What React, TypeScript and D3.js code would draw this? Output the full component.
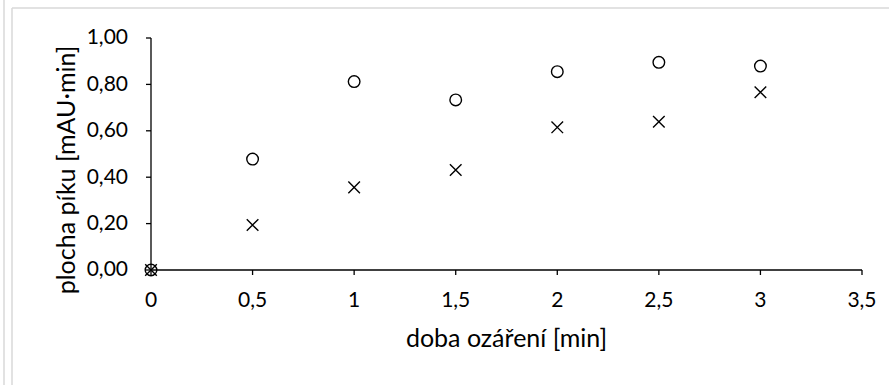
import React from "react";
import * as d3 from "d3";

const times = [0, 0.5, 1, 1.5, 2, 2.5, 3];
const circleValues = [0, 0.478, 0.812, 0.733, 0.855, 0.895, 0.879];
const crossValues = [0, 0.194, 0.356, 0.431, 0.615, 0.639, 0.766];
const xTicks = [0, 0.5, 1, 1.5, 2, 2.5, 3, 3.5];
const yTicks = [0, 0.2, 0.4, 0.6, 0.8, 1.0];

const W = 889;
const H = 385;
const margin = { left: 151, right: 27, top: 38, bottom: 115 };
const FONT = "Lato, 'Open Sans', sans-serif";

const App = () => {
  const x = d3
    .scaleLinear()
    .domain([0, 3.5])
    .range([margin.left, W - margin.right]);
  const y = d3
    .scaleLinear()
    .domain([0, 1])
    .range([H - margin.bottom, margin.top]);

  const fmtX = (d: number) => String(d).replace(".", ",");
  const fmtY = (d: number) => d.toFixed(2).replace(".", ",");

  const x0 = x(0);
  const y0 = y(0);

  return (
    <svg
      width={W}
      height={H}
      style={{ position: "absolute", left: 0, top: 0, background: "#fff" }}
      fontFamily={FONT}
    >
      {/* frame lines */}
      <line x1={4} x2={4} y1={0} y2={H} stroke="#d9d9d9" strokeWidth={1.5} />
      <line x1={12} x2={12} y1={8} y2={H} stroke="#d9d9d9" strokeWidth={1.5} />
      <line x1={12} x2={W} y1={8} y2={8} stroke="#d9d9d9" strokeWidth={1.5} />

      {/* y axis */}
      <line x1={x0} x2={x0} y1={y(1)} y2={y0} stroke="#000" strokeWidth={1.3} />
      {yTicks.map((t) => (
        <g key={"y" + t}>
          <line x1={x0 - 5} x2={x0} y1={y(t)} y2={y(t)} stroke="#000" strokeWidth={1.3} />
          <text
            x={x0 - 23}
            y={y(t)}
            dy="0.3em"
            textAnchor="end"
            fontSize={21}
            fill="#000"
          >
            {fmtY(t)}
          </text>
        </g>
      ))}

      {/* x axis */}
      <line x1={x0} x2={x(3.5)} y1={y0} y2={y0} stroke="#000" strokeWidth={1.3} />
      {xTicks.map((t) => (
        <g key={"x" + t}>
          <line x1={x(t)} x2={x(t)} y1={y0} y2={y0 + 5} stroke="#000" strokeWidth={1.3} />
          <text x={x(t)} y={y0 + 37} textAnchor="middle" fontSize={21} fill="#000">
            {fmtX(t)}
          </text>
        </g>
      ))}

      {/* axis titles */}
      <text
        x={(x0 + x(3.5)) / 2}
        y={y0 + 77}
        textAnchor="middle"
        fontSize={25}
        fill="#000"
      >
        doba ozáření [min]
      </text>
      <text
        transform={`translate(75, ${(y(1) + y0) / 2 + 16}) rotate(-90)`}
        textAnchor="middle"
        fontSize={25}
        fill="#000"
      >
        plocha píku [mAU·min]
      </text>

      {/* circle series */}
      {times.map((t, i) => (
        <circle
          key={"c" + i}
          cx={x(t)}
          cy={y(circleValues[i])}
          r={5.8}
          fill="none"
          stroke="#000"
          strokeWidth={1.4}
        />
      ))}

      {/* cross series */}
      {times.map((t, i) => {
        const cx = x(t);
        const cy = y(crossValues[i]);
        const s = 5.8;
        return (
          <path
            key={"x" + i}
            d={`M${cx - s},${cy - s}L${cx + s},${cy + s}M${cx - s},${cy + s}L${cx + s},${cy - s}`}
            stroke="#000"
            strokeWidth={1.4}
            fill="none"
          />
        );
      })}
    </svg>
  );
};

export default App;
